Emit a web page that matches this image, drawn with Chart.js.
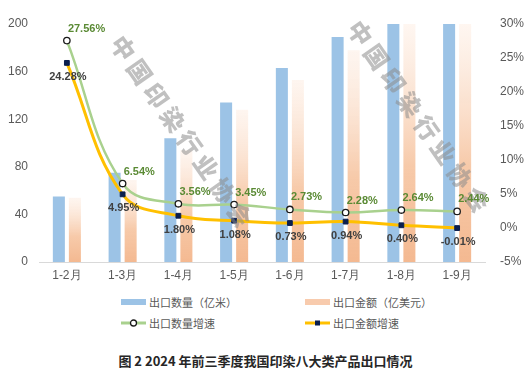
<!DOCTYPE html>
<html>
<head>
<meta charset="utf-8">
<script src="https://cdn.jsdelivr.net/npm/chart.js@4.4.1/dist/chart.umd.min.js"></script>
<style>
    body {
        margin: 0;
        background: #fff;
        width: 531px;
        height: 373px;
        position: relative;
        overflow: hidden;
        font-family: "Noto Sans CJK SC", sans-serif;
    }

    #wrap {
        position: absolute;
        left: 0;
        top: 0;
        width: 531px;
        height: 285px;
    }

    .legend-item {
        position: absolute;
        display: flex;
        align-items: center;
        font-size: 11px;
        color: #595959;
        height: 14px;
        white-space: nowrap;
    }

    .legend-item svg {
        margin-right: 3px;
    }

    .title {
        position: absolute;
        left: 0;
        top: 351px;
        width: 531px;
        text-align: center;
        font-size: 13px;
        font-weight: bold;
        color: #262626;
    }
</style>
</head>
<body>
<div id="wrap"><canvas id="exportChart" width="531" height="285"></canvas></div>

<div class="legend-item" style="left:121px; top:295px;">
    <svg width="25" height="8"><rect x="0" y="1" width="25" height="6" fill="#9cc3e6"></rect></svg>出口数量（亿米）
</div>
<div class="legend-item" style="left:305px; top:295px;">
    <svg width="25" height="8"><rect x="0" y="1" width="25" height="6" fill="#f8cbad"></rect></svg>出口金额（亿美元）
</div>
<div class="legend-item" style="left:121px; top:316px;">
    <svg width="25" height="10"><line x1="0" y1="5" x2="25" y2="5" stroke="#a9d18e" stroke-width="3"></line><circle cx="12.5" cy="5" r="3" fill="#fff" stroke="#1a1a1a" stroke-width="1.3"></circle></svg>出口数量增速
</div>
<div class="legend-item" style="left:305px; top:316px;">
    <svg width="25" height="10"><line x1="0" y1="5" x2="25" y2="5" stroke="#ffc000" stroke-width="3"></line><rect x="10" y="2.5" width="5" height="5" fill="#0b1f4e"></rect></svg>出口金额增速
</div>

<div class="title">图 2 2024 年前三季度我国印染八大类产品出口情况</div>

<script>
// Categories and values
const categories = ['1-2月', '1-3月', '1-4月', '1-5月', '1-6月', '1-7月', '1-8月', '1-9月'];
const exportVolume = [55, 75, 104, 134, 163, 189, 215, 242];   // 亿米
const exportValue = [54, 69, 94, 128, 153, 178, 203, 228];     // 亿美元
const volumeGrowth = [27.56, 6.54, 3.56, 3.45, 2.73, 2.28, 2.64, 2.44]; // %
const valueGrowth = [24.28, 4.95, 1.80, 1.08, 0.73, 0.94, 0.40, -0.01]; // %

// Axis ranges
const leftMin = 0, leftMax = 200, leftStep = 40;
const rightMin = -5, rightMax = 30, rightStep = 5;

const watermarkText = '中国印染行业协会';

// Orange bars fade out towards the top
function orangeGradient(context) {
    const chart = context.chart;
    const yScale = chart.scales.y;
    if (!chart.chartArea || !yScale || context.type !== 'data') {
        return '#f8cbad';
    }
    const top = Math.max(yScale.getPixelForValue(context.raw), chart.chartArea.top);
    const base = yScale.getPixelForValue(0);
    const grad = chart.ctx.createLinearGradient(0, top, 0, base);
    grad.addColorStop(0, 'rgba(252, 228, 212, 0.35)');
    grad.addColorStop(0.6, 'rgba(246, 196, 160, 0.9)');
    grad.addColorStop(1, 'rgba(244, 185, 145, 1)');
    return grad;
}

const watermarkPlugin = {
    id: 'watermark',
    afterDatasetsDraw(chart) {
        const ctx = chart.ctx;
        const angle = 55 * Math.PI / 180;
        const step = 29;
        const starts = [[123, 48], [360, 33]];
        ctx.save();
        ctx.font = '900 24px "Noto Sans CJK SC"';
        ctx.fillStyle = 'rgba(140, 140, 140, 0.55)';
        ctx.textAlign = 'center';
        ctx.textBaseline = 'middle';
        starts.forEach(([sx, sy]) => {
            [...watermarkText].forEach((ch, i) => {
                ctx.save();
                ctx.translate(sx + i * step * Math.cos(angle), sy + i * step * Math.sin(angle));
                ctx.rotate(angle);
                ctx.fillText(ch, 0, 0);
                ctx.restore();
            });
        });
        ctx.restore();
    }
};

const pointLabelPlugin = {
    id: 'pointLabels',
    afterDatasetsDraw(chart) {
        const ctx = chart.ctx;
        ctx.save();
        ctx.font = 'bold 11px "Liberation Sans"';
        ctx.textBaseline = 'middle';

        // volume growth: green, above
        const volMeta = chart.getDatasetMeta(2);
        ctx.fillStyle = '#5a8a34';
        ctx.textAlign = 'left';
        volMeta.data.forEach((pt, i) => {
            ctx.fillText(volumeGrowth[i].toFixed(2) + '%', pt.x + 1, pt.y - 12);
        });

        // value growth: dark grey, below
        const valMeta = chart.getDatasetMeta(3);
        ctx.fillStyle = '#404040';
        ctx.textAlign = 'center';
        valMeta.data.forEach((pt, i) => {
            ctx.fillText(valueGrowth[i].toFixed(2) + '%', pt.x + 1, pt.y + 14);
        });
        ctx.restore();
    }
};

const tickFont = { family: '"Liberation Sans"', size: 12 };
const tickColor = '#595959';

const ctx = document.getElementById('exportChart').getContext('2d');

const exportChart = new Chart(ctx, {
    type: 'bar',
    data: {
        labels: categories,
        datasets: [
            {
                label: '出口数量（亿米）',
                data: exportVolume,
                backgroundColor: '#9cc3e6',
                yAxisID: 'y',
                categoryPercentage: 0.575,
                barPercentage: 0.75,
                clip: 0,
                order: 2
            },
            {
                label: '出口金额（亿美元）',
                data: exportValue,
                backgroundColor: orangeGradient,
                yAxisID: 'y',
                categoryPercentage: 0.575,
                barPercentage: 0.75,
                clip: 0,
                order: 3
            },
            {
                type: 'line',
                label: '出口数量增速',
                data: volumeGrowth,
                yAxisID: 'y1',
                borderColor: '#a9d18e',
                borderWidth: 2.5,
                tension: 0.4,
                pointStyle: 'circle',
                pointRadius: 3.2,
                pointBackgroundColor: '#ffffff',
                pointBorderColor: '#1a1a1a',
                pointBorderWidth: 1.3,
                order: 1
            },
            {
                type: 'line',
                label: '出口金额增速',
                data: valueGrowth,
                yAxisID: 'y1',
                borderColor: '#ffc000',
                borderWidth: 3,
                tension: 0.4,
                pointStyle: 'rect',
                pointRadius: 3.4,
                pointBackgroundColor: '#0b1f4e',
                pointBorderColor: '#0b1f4e',
                pointBorderWidth: 1,
                order: 0
            }
        ]
    },
    options: {
        responsive: false,
        animation: false,
        layout: {
            padding: { top: 24, left: 0, right: 0, bottom: 0 }
        },
        scales: {
            x: {
                grid: { display: false, drawTicks: false },
                border: { display: true, color: '#d9d9d9', width: 1 },
                ticks: { font: tickFont, color: tickColor, padding: 6, maxRotation: 0 },
                afterFit: (scale) => { scale.height = 23; }
            },
            y: {
                position: 'left',
                min: leftMin,
                max: leftMax,
                grid: { display: false, drawTicks: false },
                border: { display: false },
                ticks: { stepSize: leftStep, font: tickFont, color: tickColor, padding: 11 },
                afterFit: (scale) => { scale.width = 39; }
            },
            y1: {
                position: 'right',
                min: rightMin,
                max: rightMax,
                grid: { display: false, drawTicks: false },
                border: { display: false },
                ticks: {
                    stepSize: rightStep,
                    font: tickFont,
                    color: tickColor,
                    padding: 15,
                    callback: (v) => v + '%'
                },
                afterFit: (scale) => { scale.width = 46; }
            }
        },
        plugins: {
            legend: { display: false },
            tooltip: { enabled: false }
        }
    },
    plugins: [watermarkPlugin, pointLabelPlugin]
});
</script>
</body>
</html>
